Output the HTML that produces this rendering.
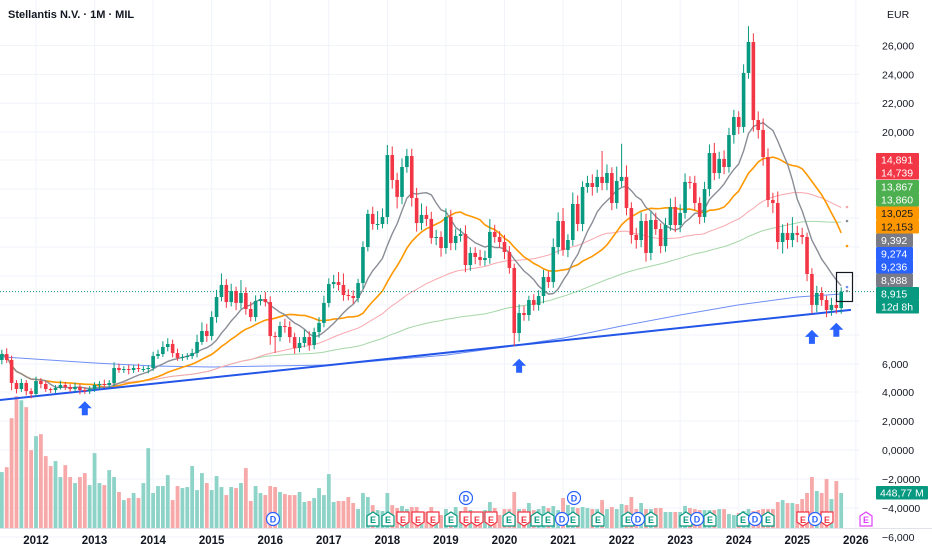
<!DOCTYPE html>
<html><head><meta charset="utf-8">
<style>
html,body{margin:0;padding:0;background:#fff;}
svg{display:block;font-family:"Liberation Sans",sans-serif;}
</style></head>
<body>
<svg id="chart" width="932" height="550" viewBox="0 0 932 550" xmlns="http://www.w3.org/2000/svg">
<rect x="0" y="0" width="932" height="550" fill="#ffffff"/>
<g id="grid"></g>
<g id="vol"></g>
<g id="mas"></g>
<g id="candles"></g>
<g id="overlay"></g>
<g id="axis"></g>
<text x="8" y="18" font-size="11" font-weight="700" fill="#131722">Stellantis N.V. · 1M · MIL</text>
</svg>
<script>
const startMonth = -7; // Jun 2011 relative to Jan 2012
const firstOpen = 4.17;
const closes = [4.58,4.17,2.57,2.15,2.57,2.01,1.81,
2.71,2.50,2.15,2.08,2.22,2.43,2.29,2.15,2.29,2.08,2.01,2.15,
2.43,2.50,2.43,2.57,3.61,3.47,3.54,3.47,3.61,3.54,3.54,3.61,
4.44,4.58,5.07,5.28,4.65,4.31,4.38,4.44,4.65,5.42,6.18,5.83,
7.15,8.54,9.38,8.19,8.96,8.13,8.82,7.71,7.15,8.26,8.40,8.19,
5.83,5.76,6.53,6.46,5.76,5.00,5.35,5.76,5.21,6.11,6.74,8.13,
9.44,9.58,9.38,8.68,8.61,8.47,9.51,12.01,14.31,13.61,13.61,14.10,
18.40,16.67,15.49,17.57,18.33,15.42,13.68,14.24,13.96,12.64,12.71,11.94,
14.10,12.29,12.78,12.92,10.76,11.60,11.32,11.11,11.25,13.06,12.71,12.36,
11.67,10.56,6.04,7.43,7.29,8.33,7.99,8.61,9.93,9.58,12.01,13.82,
11.81,12.50,15.00,13.61,16.18,16.46,16.18,16.88,16.46,17.15,15.07,16.60,
16.88,14.72,12.85,12.50,13.82,11.60,13.89,13.26,12.08,13.54,14.79,13.54,
14.38,16.53,16.46,15.07,14.10,16.04,18.54,17.15,18.13,17.57,19.79,21.04,
20.35,24.10,26.25,20.83,20.14,18.26,15.28,15.07,12.36,12.99,12.50,12.99,
12.85,12.71,10.14,7.99,8.82,8.33,7.64,7.99,7.78,8.915];
const wickUp = [0.3,0.4,0.3,0.2,0.3,0.2,0.2,
0.3,0.2,0.2,0.1,0.2,0.3,0.2,0.2,0.3,0.2,0.2,0.2,
0.2,0.2,0.3,0.2,0.4,0.3,0.2,0.3,0.2,0.3,0.2,0.2,
0.3,0.3,0.4,0.4,0.3,0.3,0.2,0.2,0.3,0.5,0.6,0.5,
0.4,0.5,0.8,0.4,0.5,0.3,0.9,0.4,0.5,0.4,0.3,0.5,
0.4,0.3,0.3,0.5,0.4,0.3,0.4,0.5,0.4,0.3,0.4,0.5,
0.4,0.5,0.7,0.8,0.4,0.4,0.3,0.4,0.3,0.5,0.9,0.6,
0.7,0.6,0.5,0.6,0.5,0.5,0.7,0.8,0.6,0.5,0.5,0.4,
0.6,0.5,0.5,0.4,0.6,0.4,0.4,0.5,0.5,0.9,0.5,0.4,
0.5,0.4,0.3,0.6,0.5,0.3,0.4,0.4,0.5,0.4,0.6,0.6,
0.9,0.4,0.8,0.6,0.4,0.5,0.6,0.5,1.8,0.6,0.4,1.0,
2.3,0.8,0.4,0.5,0.6,0.5,0.6,0.5,0.4,0.5,0.6,0.7,
0.6,0.6,0.4,0.5,0.4,0.5,0.6,0.7,0.5,0.6,0.5,0.5,
0.4,0.6,1.1,0.6,0.6,0.8,0.6,0.5,0.8,0.6,0.7,1.1,
0.5,0.5,0.3,0.4,0.5,0.4,0.3,0.5,0.4,0.3];
const wickDn = [0.3,0.2,0.5,0.3,0.2,0.3,0.3,
0.2,0.3,0.2,0.2,0.2,0.1,0.2,0.2,0.2,0.3,0.2,0.2,
0.2,0.3,0.2,0.2,0.2,0.2,0.2,0.3,0.2,0.2,0.2,0.3,
0.2,0.2,0.2,0.3,0.3,0.2,0.2,0.2,0.2,0.3,0.2,0.4,
0.3,0.4,0.3,0.4,0.3,0.5,0.4,0.4,0.3,0.3,0.3,0.3,
0.6,1.1,0.3,0.4,0.4,0.4,0.3,0.3,0.4,0.3,0.4,0.3,
0.3,0.3,0.4,0.4,0.3,0.4,0.3,0.4,0.3,0.4,0.4,0.3,
0.5,0.6,0.8,0.5,0.4,0.6,0.6,0.5,0.5,0.4,0.5,0.6,
0.4,0.5,0.5,0.4,0.5,0.4,0.5,0.4,0.4,0.4,0.4,0.4,
0.5,0.4,0.9,0.6,0.4,0.4,0.4,0.4,0.5,0.4,0.4,0.5,
0.4,0.5,0.4,0.5,0.5,0.4,0.6,0.4,0.5,0.5,0.5,0.4,
0.4,0.5,0.6,0.6,0.5,0.6,0.5,0.4,0.5,0.4,0.4,0.5,
0.5,0.4,0.4,0.5,0.5,0.4,0.5,0.5,0.4,0.5,0.4,0.6,
0.5,0.4,0.4,0.8,0.6,0.6,0.5,0.7,0.5,0.8,0.6,0.5,
0.5,0.5,0.5,0.6,0.5,0.4,0.5,0.4,0.4,0.4];
const volumes = [717,780,1408,1690,1638,1549,998,
1178,1203,922,794,858,653,806,653,576,653,704,550,
960,576,550,742,653,461,358,384,448,384,576,1024,
448,538,538,678,358,538,512,525,794,486,704,576,
486,666,525,422,525,512,576,768,346,538,448,422,
538,525,461,435,422,422,461,333,346,384,512,422,
691,333,346,346,397,320,243,448,397,294,230,218,
448,294,256,282,243,269,269,205,205,269,205,166,
243,205,269,218,269,230,166,192,230,333,256,166,
243,243,461,243,243,320,230,243,282,256,282,230,
384,294,269,256,269,256,243,243,358,243,269,243,
307,294,397,243,320,243,243,256,256,205,205,205,
205,282,256,243,230,230,230,230,243,243,179,166,
192,218,243,218,230,243,243,243,333,358,320,320,
307,371,448,653,474,448,627,371,602,448];
const longMaMonths = [-7,12,24,36,48,60,72,84,96,108,120,132,144,156,165];
const longMaValues = [4.38,3.96,3.75,3.68,3.75,3.82,4.17,4.51,5.07,5.69,6.53,7.29,7.99,8.54,8.75];
const trendMonths = [-7.4,167];
const trendValues = [1.39,7.65];
const years = [2012,2013,2014,2015,2016,2017,2018,2019,2020,2021,2022,2023,2024,2025,2026];
const priceTicks = [26,24,22,20];
const priceTickLabels = ["26,000","24,000","22,000","20,000"];
const lowerTickLabels = ["6,000","4,0000","2,0000","0,0000","−2,0000","−4,0000","−6,000"];
const lowerTickY = [364,392,421,450,479,508,537];
const arrowMonths = [10,99,159,164];
const arrowValues = [0.75,3.7,5.7,6.2];

const NS="http://www.w3.org/2000/svg";
const GREEN="#089981", RED="#f23645";
function xS(m){return 36+m*4.88;}
function yS(v){return 420-v*14.4;}
function vS(v){return 528-v*0.078;}
function mk(tag,attrs,parent){const e=document.createElementNS(NS,tag);for(const k in attrs)e.setAttribute(k,attrs[k]);parent.appendChild(e);return e;}

const grid=document.getElementById('grid');
years.forEach(function(yr){
  const x=xS((yr-2012)*12);
  const l=mk('line',{x1:x,y1:0,x2:x,y2:528,stroke:'#f0f3fa','stroke-width':1},grid);
  
  
});
priceTicks.forEach(function(v){
  const l=mk('line',{x1:0,y1:yS(v),x2:860,y2:yS(v),stroke:'#f0f3fa','stroke-width':1},grid);
  
  
});
lowerTickY.forEach(function(y){
  const l=mk('line',{x1:0,y1:y,x2:860,y2:y,stroke:'#f0f3fa','stroke-width':1},grid);
  
  
});
[160,189,218,247,276,305,335].forEach(function(y){
  const l=mk('line',{x1:0,y1:y,x2:860,y2:y,stroke:'#f0f3fa','stroke-width':1},grid);
  
  
});
mk('line',{x1:0,y1:528.5,x2:932,y2:528.5,stroke:'#e0e3eb','stroke-width':1},grid);

// opens
const opens=closes.map(function(c,i){return i===0?firstOpen:closes[i-1];});

// volume
const vol=document.getElementById('vol');
volumes.forEach(function(v,i){
  const m=startMonth+i;
  const up=closes[i]>=opens[i];
  const top=vS(v);
  const r=mk('rect',{x:xS(m)-1.9,y:top,width:3.8,height:528-top,fill:up?'#8ed3c7':'#f7a8a8'},vol);
  
  
});

// moving averages
function sma(n){return closes.map(function(c,i){const s=Math.max(0,i-n+1);let t=0;for(let j=s;j<=i;j++)t+=closes[j];return t/(i-s+1);});}
function pathFrom(vals,offset){return vals.map(function(v,i){return (i?'L':'M')+xS(startMonth+i+(offset||0)).toFixed(1)+','+yS(v).toFixed(1);}).join('');}
const mas=document.getElementById('mas');
const maDefs=[[100,'#a5d6a7',1,'ma-100'],[50,'#f7a6ad',1,'ma-50'],[20,'#ff9800',1.6,'ma-20'],[10,'#8a8d96',1.4,'ma-10']];
let lp=longMaMonths.map(function(m,i){return (i?'L':'M')+xS(m).toFixed(1)+','+yS(longMaValues[i]).toFixed(1);}).join('');
const lpe=mk('path',{d:lp,fill:'none',stroke:'#6f8ff5','stroke-width':1},mas);


maDefs.forEach(function(d){
  const p=mk('path',{d:pathFrom(sma(d[0])),fill:'none',stroke:d[1],'stroke-width':d[2]},mas);
  
  
});
// trendline
const tl=mk('line',{x1:xS(trendMonths[0]),y1:yS(trendValues[0]),x2:xS(trendMonths[1]),y2:yS(trendValues[1]),stroke:'#2255e8','stroke-width':2},mas);


// current price dotted line
const last=closes[closes.length-1];
const cp=mk('line',{x1:0,y1:yS(last),x2:875,y2:yS(last),stroke:GREEN,'stroke-width':1,'stroke-dasharray':'1,2'},mas);



// candles
const cg=document.getElementById('candles');
closes.forEach(function(c,i){
  const m=startMonth+i,o=opens[i],up=c>=o,col=up?GREEN:RED;
  const hi=Math.max(o,c)+wickUp[i],lo=Math.min(o,c)-wickDn[i];
  const x=xS(m);
  const w=mk('line',{x1:x,y1:yS(hi),x2:x,y2:yS(lo),stroke:col,'stroke-width':1},cg);
  
  
  const t=yS(Math.max(o,c)),b=yS(Math.min(o,c));
  const r=mk('rect',{x:x-1.8,y:t,width:3.6,height:Math.max(1,b-t),fill:col},cg);
  
  
});

// overlay: arrows, badges, box
const ov=document.getElementById('overlay');
arrowMonths.forEach(function(m,i){
  const x=xS(m),y=yS(arrowValues[i]);
  const a=mk('path',{d:'M'+x+','+(y-8)+'l7,7h-4v7h-6v-7h-4z',fill:'#2962ff'},ov);
  
  
});
const eGreen=[373,388,451,509,537,548,573,598,628,651,686,710,743,768];
const eRed=[403,418,433,466,477,491,524,803,827];
const dBottom=[273,562,638,697,755,815];
const dTop=[466,574];
function badgeE(x,col,upShape,name){
  const y=512;
  const d=upShape?('M'+(x-6)+','+(y+4)+'L'+x+','+(y)+'L'+(x+6)+','+(y+4)+'V'+(y+14)+'H'+(x-6)+'Z'):('M'+(x-6)+','+y+'H'+(x+6)+'V'+(y+10)+'L'+x+','+(y+14)+'L'+(x-6)+','+(y+10)+'Z');
  const p=mk('path',{d:d,fill:'#fff',stroke:col,'stroke-width':1.2},ov);
  
  
  const t=mk('text',{x:x,y:y+11,'font-size':9,'text-anchor':'middle',fill:col,'font-weight':'700'},ov);
  t.textContent='E';
  
  
}
eGreen.forEach(function(x){badgeE(x,GREEN,true,'earnings-badge');});
eRed.forEach(function(x){badgeE(x,RED,false,'earnings-badge');});
function badgeD(x,y){
  const c=mk('circle',{cx:x,cy:y,r:6.5,fill:'#fff',stroke:'#2962ff','stroke-width':1.2},ov);
  
  
  const t=mk('text',{x:x,y:y+3.5,'font-size':9,'text-anchor':'middle',fill:'#2962ff','font-weight':'700'},ov);
  t.textContent='D';
  
  
}
dBottom.forEach(function(x){badgeD(x,519);});
dTop.forEach(function(x){badgeD(x,498);});
badgeE(866,'#e040fb',true,'upcoming-earnings-badge');
const box=mk('rect',{x:836.5,y:272.5,width:16,height:29,fill:'none',stroke:'#131722','stroke-width':1.2},ov);


[[847,207,'#f7a6ad'],[847,221,'#8a8d96'],[847,246,'#ff9800'],[847,287,'#6f8ff5'],[847,291,'#8a8d96']].forEach(function(d){
  const c=mk('circle',{cx:d[0],cy:d[1],r:1.3,fill:d[2]},ov);
  
  
});

// axis
const ax=document.getElementById('axis');
const eur=mk('text',{x:887,y:18,'font-size':10.5,fill:'#131722'},ax);
eur.textContent='EUR';


priceTicks.forEach(function(v,i){
  const t=mk('text',{x:882,y:yS(v)+4,'font-size':10.5,fill:'#131722'},ax);
  t.textContent=priceTickLabels[i];
  
  
});
lowerTickLabels.forEach(function(s,i){
  const t=mk('text',{x:882,y:lowerTickY[i]+4,'font-size':10.5,fill:'#131722'},ax);
  t.textContent=s;
  
  
});
const tags=[["14,891",153,RED,'#fff',919],["14,739",166,RED,'#fff',919],["13,867",180,'#4caf50','#fff',919],["13,860",193,'#4caf50','#fff',919],["13,025",206.5,'#ff9800','#131722',919],["12,153",220,'#ff9800','#131722',919],["9,392",233.5,'#787b86','#fff',913],["9,274",247,'#2962ff','#fff',913],["9,236",260,'#2962ff','#fff',913],["8,988",273.5,'#787b86','#fff',913],["8,915",287,GREEN,'#fff',919],["12d 8h",300,GREEN,'#fff',919]];
tags.forEach(function(d){
  const r=mk('rect',{x:876,y:d[1],width:d[4]-876,height:13.5,fill:d[2],rx:1},ax);
  
  
  const t=mk('text',{x:881,y:d[1]+10.5,'font-size':10.5,fill:d[3]},ax);
  t.textContent=d[0];
  
  
});
const vr=mk('rect',{x:876,y:486,width:52,height:13.5,fill:GREEN,rx:1},ax);


const vt=mk('text',{x:880,y:496.5,'font-size':10.5,fill:'#fff'},ax);
vt.textContent='448,77 M';


years.forEach(function(yr){
  const t=mk('text',{x:xS((yr-2012)*12),y:544,'font-size':11.5,'font-weight':'700','text-anchor':'middle',fill:'#131722'},ax);
  t.textContent=String(yr);
  
  
});
</script>
</body></html>
